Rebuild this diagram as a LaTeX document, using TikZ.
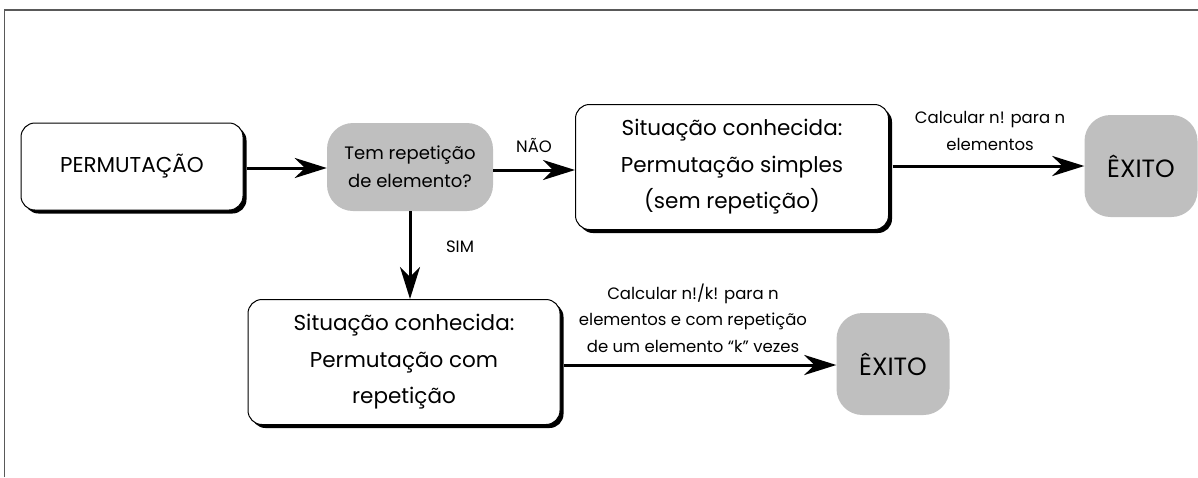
\documentclass[tikz,border=0pt]{standalone}
\usepackage{fontspec}
\setmainfont{Poppins}
\usetikzlibrary{arrows.meta,shadows}
\tikzset{
  whitebox/.style={draw=black, line width=1pt, fill=white, rounded corners=14pt, align=center,
    font=\fontsize{21.5}{36.5}\selectfont,
    drop shadow={shadow xshift=3.5pt, shadow yshift=-3.5pt, fill=black, opacity=1}},
  graybox/.style={fill=gray!50!white, draw=none, rounded corners=26pt, align=center},
  arr/.style={line width=3pt, -{Stealth[length=32pt,width=20pt,inset=10pt]}},
  lbl/.style={align=center, font=\fontsize{16.5}{26.5}\selectfont}
}
\begin{document}
\begin{tikzpicture}[x=1pt,y=-1pt]
\useasboundingbox (0,0) rectangle (1198,477);
\draw[draw=black!65, line width=1.4pt] (4.5,477) -- (4.5,10) -- (1198,10);
\node[whitebox, minimum width=222pt, minimum height=87pt] (perm) at (132,166.5) {PERMUTAÇÃO};
\node[graybox, minimum width=166pt, minimum height=88pt, font=\fontsize{18}{28}\selectfont] (dec) at (410,167) {Tem repetição\\de elemento?};
\node[whitebox, minimum width=313pt, minimum height=125pt] (simp) at (732,167) {Situação conhecida:\\Permutação simples\\(sem repetição)};
\node[graybox, minimum width=113pt, minimum height=102pt, font=\fontsize{25}{30}\selectfont] (ex1) at (1141,166) {ÊXITO};
\node[whitebox, minimum width=312pt, minimum height=125pt] (com) at (404,362) {Situação conhecida:\\Permutação com\\repetição};
\node[graybox, minimum width=113pt, minimum height=102pt, font=\fontsize{25}{30}\selectfont] (ex2) at (893,364) {ÊXITO};
\coordinate (a1s) at ([xshift=3.5pt]perm.east |- 0,168);
\coordinate (a2s) at (dec.east |- 0,170);
\coordinate (a3s) at ([xshift=3.5pt]simp.east |- 0,166);
\coordinate (a5s) at ([xshift=3.5pt]com.east |- 0,365);
\draw[arr] (a1s) -- (a1s -| dec.west);
\draw[arr] (a2s) -- (a2s -| simp.west);
\draw[arr] (a3s) -- (a3s -| ex1.west);
\draw[arr] (dec.south) -- (dec.south |- com.north);
\draw[arr] (a5s) -- (a5s -| ex2.west);
\node[lbl] (nao) at (534,145) {NÃO};
\node[lbl] (sim) at (460,247) {SIM};
\node[lbl] (l1) at (990,131) {Calcular n! para n\\elementos};
\node[lbl] (l2) at (693,318) {Calcular n!/k! para n\\elementos e com repetição\\de um elemento “k” vezes};
\end{tikzpicture}
\end{document}
